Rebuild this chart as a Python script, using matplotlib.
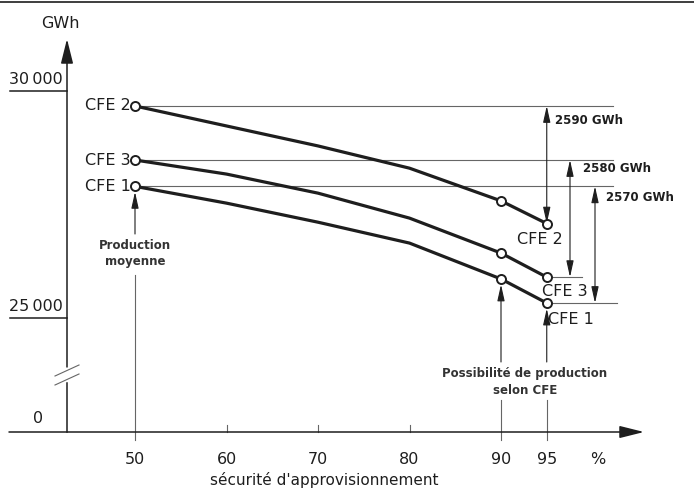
import matplotlib.pyplot as plt

# security of supply (%) and production (GWh)
sec = [50, 60, 70, 80, 90, 95]
cfe2 = [29670, 29230, 28790, 28300, 27580, 27080]
cfe3 = [28480, 28170, 27750, 27200, 26430, 25900]
cfe1 = [27900, 27530, 27110, 26650, 25860, 25330]
marked = [0, 4, 5]  # circles only at 50, 90 and 95 %
ytick_vals = [30000, 25000]
xtick_vals = [50, 60, 70, 80, 90, 95]
ecarts = ["2590 GWh", "2580 GWh", "2570 GWh"]

ink = "#1e1e1e"
thin = "#666666"
plt.rcParams["font.family"] = ["DejaVu Sans"]


# pixel -> data helpers for placing the drawing furniture
def gx(px):
    return 50 + (px - 135) / 9.15


def gy(py):
    return 30000 - (py - 91) * 1000 / 45.4


fig = plt.figure(figsize=(6.94, 4.90), dpi=100)
ax = fig.add_axes([0, 0, 1, 1])
ax.set_xlim(gx(0), gx(694))
ax.set_ylim(gy(490), gy(0))
ax.axis("off")

X0 = gx(67)   # y axis position
Y0 = gy(432)  # x axis position ("0")

# frame line on top of the page
ax.plot([gx(0), gx(694)], [gy(2), gy(2)], color=ink, lw=1.2)

# axes with arrows
arr = dict(arrowstyle="-|>,head_length=1.0,head_width=0.25", color=ink, lw=1.1,
           shrinkA=0, shrinkB=0, mutation_scale=15)
ax.annotate("", xy=(gx(644), Y0), xytext=(gx(9), Y0), arrowprops=arr)
ax.annotate("", xy=(X0, gy(39)), xytext=(X0, gy(367)), arrowprops=arr)
ax.plot([X0, X0], [Y0, gy(383)], color=ink, lw=1.1)
# axis break
for yb in (376, 385):
    ax.plot([gx(55), gx(79)], [gy(yb), gy(yb - 11)], color=thin, lw=0.8)

# y ticks with underlines
for v in ytick_vals:
    ax.plot([gx(10), X0], [v, v], color=ink, lw=1.1)
    ax.text(gx(36), v + 250, f"{v:,}".replace(",", "\u2009"), ha="center", va="center",
            fontsize=11.5, color=ink)
ax.text(gx(38), gy(419), "0", ha="center", va="center", fontsize=11.5, color=ink)
ax.text(gx(60), gy(24), "GWh", ha="center", va="center", fontsize=11.5, color=ink)

# x ticks
for v in xtick_vals:
    if v in (50, 90, 95):
        ax.plot([v, v], [Y0, gy(440)], color=thin, lw=0.8)
    else:
        ax.plot([v, v], [Y0, gy(425)], color=thin, lw=0.8)
    ax.text(v, gy(460), str(v), ha="center", va="center", fontsize=11.5, color=ink)
ax.text(gx(598), gy(460), "%", ha="center", va="center", fontsize=11.5, color=ink)
ax.text(gx(324), gy(480), "sécurité d'approvisionnement", ha="center", va="center",
        fontsize=11, color=ink)

# thin reference lines
for s in (cfe2, cfe3, cfe1):
    ax.plot([sec[0], gx(613)], [s[0], s[0]], color=thin, lw=0.8)
ax.plot([sec[-1], gx(582)], [cfe3[-1], cfe3[-1]], color=thin, lw=0.8)
ax.plot([sec[-1], gx(617)], [cfe1[-1], cfe1[-1]], color=thin, lw=0.8)

# curves
for s in (cfe2, cfe3, cfe1):
    ax.plot(sec, s, color=ink, lw=2.3, solid_capstyle="round", solid_joinstyle="round",
            zorder=3)
    ax.plot([sec[i] for i in marked], [s[i] for i in marked], "o", ms=6.5,
            mfc="white", mec=ink, mew=1.4, zorder=4)

# curve names
for name, s in (("CFE 2", cfe2), ("CFE 3", cfe3), ("CFE 1", cfe1)):
    ax.text(gx(131), s[0], name, ha="right", va="center", fontsize=11.5, color=ink)
ax.text(gx(540), gy(240), "CFE 2", ha="center", va="center", fontsize=11.5, color=ink)
ax.text(gx(565), gy(292), "CFE 3", ha="center", va="center", fontsize=11.5, color=ink)
ax.text(gx(571), gy(320), "CFE 1", ha="center", va="center", fontsize=11.5, color=ink)

# dimension arrows between 50 % and 95 %
dim = dict(arrowstyle="<|-|>,head_length=0.9,head_width=0.2", color=ink, lw=0.8,
           shrinkA=0, shrinkB=0, mutation_scale=11)
dim_x = [95, gx(570), gx(595)]
lab_pos = [(gx(555), gy(121)), (gx(583), gy(169)), (gx(606), gy(198))]
for s, xd, lab, (tx, ty) in zip((cfe2, cfe3, cfe1), dim_x, ecarts, lab_pos):
    ax.annotate("", xy=(xd, s[0]), xytext=(xd, s[-1]), arrowprops=dim)
    ax.text(tx, ty, lab, ha="left", va="center", fontsize=8.5, fontweight="bold",
            color=ink)

# pointers from the x axis
up = dict(arrowstyle="-|>,head_length=0.9,head_width=0.2", color=ink, lw=0.8,
          shrinkA=0, shrinkB=4, mutation_scale=11)
ax.annotate("", xy=(50, cfe1[0]), xytext=(50, gy(234)), arrowprops=up)
ax.plot([50, 50], [Y0, gy(275)], color=thin, lw=0.8)
ax.text(50, gy(254), "Production\nmoyenne", ha="center", va="center", fontsize=8.5,
        fontweight="bold", color="#333333", linespacing=1.3)
for i in (4, 5):
    ax.annotate("", xy=(sec[i], cfe1[i]), xytext=(sec[i], gy(362)), arrowprops=up)
    ax.plot([sec[i], sec[i]], [Y0, gy(400)], color=thin, lw=0.8)
ax.text(gx(525), gy(382), "Possibilité de production\nselon CFE", ha="center",
        va="center", fontsize=8.5, fontweight="bold", color="#333333", linespacing=1.4)

fig.savefig("out.png", dpi=100)
